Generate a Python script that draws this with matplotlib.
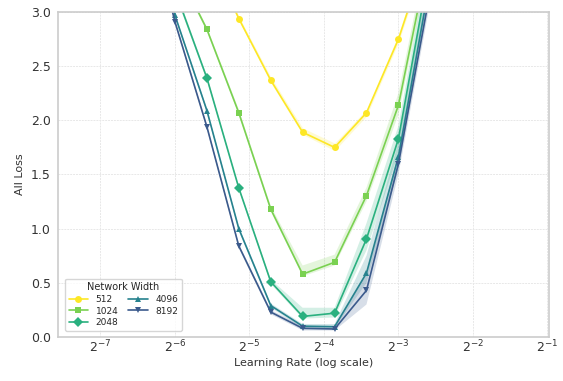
import matplotlib
matplotlib.use('Agg')

import numpy as np
import matplotlib.pyplot as plt
import seaborn as sns
from matplotlib.ticker import LogLocator, LogFormatterMathtext, NullLocator

# learning rates as powers of two (step of 3/7 octave)
lr_exp = [-6.429, -6.0, -5.571, -5.143, -4.714, -4.286, -3.857, -3.429, -3.0, -2.571]

widths = [512, 1024, 2048, 4096, 8192]

loss_512 = [4.6, 4.1, 3.58, 2.94, 2.37, 1.89, 1.75, 2.07, 2.75, 3.64]
lo_512 = [4.57, 4.07, 3.55, 2.92, 2.35, 1.87, 1.72, 2.04, 2.72, 3.6]
hi_512 = [4.63, 4.13, 3.61, 2.96, 2.40, 1.93, 1.79, 2.10, 2.79, 3.7]

loss_1024 = [4.1, 3.43, 2.84, 2.07, 1.18, 0.58, 0.69, 1.305, 2.14, 3.59]
lo_1024 = [4.05, 3.4, 2.82, 2.05, 1.16, 0.56, 0.66, 1.25, 2.05, 3.5]
hi_1024 = [4.15, 3.46, 2.86, 2.10, 1.21, 0.66, 0.76, 1.38, 2.25, 3.7]

loss_2048 = [4.0, 3.2, 2.39, 1.376, 0.51, 0.19, 0.22, 0.905, 1.83, 3.46]
lo_2048 = [3.95, 3.17, 2.37, 1.36, 0.49, 0.17, 0.18, 0.80, 1.70, 3.35]
hi_2048 = [4.05, 3.23, 2.41, 1.39, 0.53, 0.27, 0.27, 1.05, 1.95, 3.6]

loss_4096 = [4.2, 2.97, 2.09, 1.0, 0.29, 0.10, 0.095, 0.59, 1.665, 3.31]
lo_4096 = [4.15, 2.95, 2.07, 0.98, 0.27, 0.08, 0.08, 0.50, 1.55, 3.2]
hi_4096 = [4.25, 2.99, 2.11, 1.02, 0.31, 0.12, 0.12, 0.75, 1.80, 3.45]

loss_8192 = [4.1, 2.91, 1.94, 0.84, 0.23, 0.08, 0.074, 0.43, 1.60, 3.2]
lo_8192 = [4.05, 2.89, 1.92, 0.82, 0.21, 0.06, 0.06, 0.30, 1.50, 3.1]
hi_8192 = [4.15, 2.93, 1.96, 0.86, 0.25, 0.10, 0.10, 0.58, 1.70, 3.35]

sns.set_theme(style="whitegrid")
plt.rcParams['font.family'] = ['DejaVu Sans']

colors = ['#fde725', '#7ad151', '#2ab07f', '#26828e', '#3b5a8c']
markers = ['o', 's', 'D', '^', 'v']

lr = 2.0 ** np.array(lr_exp)
series = [
    (loss_512, lo_512, hi_512),
    (loss_1024, lo_1024, hi_1024),
    (loss_2048, lo_2048, hi_2048),
    (loss_4096, lo_4096, hi_4096),
    (loss_8192, lo_8192, hi_8192),
]

fig = plt.figure(figsize=(5.63, 3.81), dpi=100)
ax = fig.add_axes([0.103, 0.1155, 0.872, 0.853])

for w, (y, lo, hi), c, m in zip(widths, series, colors, markers):
    ax.fill_between(lr, lo, hi, color=c, alpha=0.2, linewidth=0)
    ax.plot(lr, y, color=c, marker=m, markersize=5, linewidth=1.2,
            markeredgewidth=0, label=str(w))

ax.set_xscale('log', base=2)
ax.set_xlim(2.0 ** -7.57, 2.0 ** -0.98)
ax.set_ylim(0, 3.0)
ax.xaxis.set_major_locator(LogLocator(base=2))
ax.xaxis.set_major_formatter(LogFormatterMathtext(base=2))
ax.xaxis.set_minor_locator(NullLocator())
ax.set_yticks([0.0, 0.5, 1.0, 1.5, 2.0, 2.5, 3.0])
ax.tick_params(axis='both', labelsize=9, length=0, colors='#333333')
ax.tick_params(axis='x', pad=1)
ax.tick_params(axis='y', pad=5)
ax.grid(True, color='#e8e8e8', linewidth=0.7, linestyle=(0, (2, 1)))
for s in ax.spines.values():
    s.set_color('#cccccc')
    s.set_linewidth(1.2)

ax.set_xlabel('Learning Rate (log scale)', fontsize=8, color='#333333', labelpad=2)
ax.set_ylabel('All Loss', fontsize=8, color='#333333', labelpad=4)

leg = ax.legend(title='Network Width', ncol=2, loc='lower left', fontsize=6.5,
                title_fontsize=7, frameon=True, borderpad=0.4, labelspacing=0.3,
                columnspacing=1.1, handlelength=2.2, bbox_to_anchor=(0.005, 0.005))
leg.get_frame().set_edgecolor('#cccccc')

fig.savefig('out.png', dpi=100)
